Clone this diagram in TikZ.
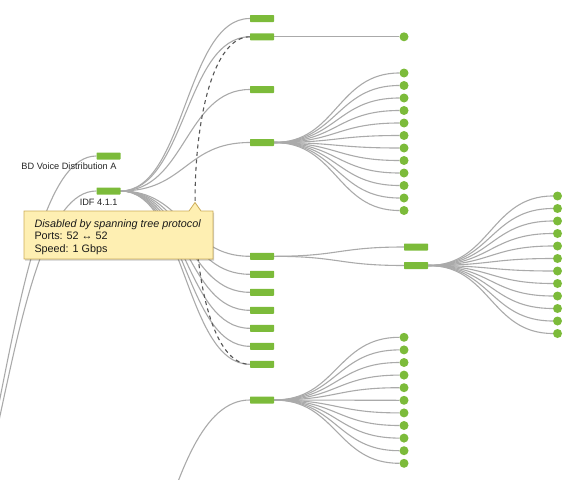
\documentclass[tikz,border=0pt]{standalone}
\usepackage{fontspec}
\setmainfont{Liberation Sans}
\usetikzlibrary{calc,shadows}
\pgfdeclarelayer{bg}
\pgfsetlayers{bg,main}
\definecolor{barGreen}{RGB}{124,187,58}
\definecolor{edgeGray}{RGB}{170,170,170}
\definecolor{dashGray}{RGB}{85,85,85}
\definecolor{tipFill}{RGB}{254,239,178}
\definecolor{tipBorder}{RGB}{204,172,88}
\definecolor{tipText}{RGB}{25,25,25}
\tikzset{
  bar/.style={fill=barGreen, draw=none, minimum width=24pt, minimum height=7pt, inner sep=0pt, rounded corners=0.6pt},
  leaf/.style={circle, fill=barGreen, draw=none, minimum size=9pt, inner sep=0pt},
  link/.style={draw=edgeGray, line width=1.1pt},
  diag/.style={to path={let \p1=(\tikztostart), \p2=(\tikztotarget), \p3=($(\p1)!0.5!(\p2)$) in .. controls (\x3,\y1) and (\x3,\y2) .. (\p2)}},
  blocked/.style={draw=dashGray, line width=1.1pt, dash pattern=on 4pt off 3.5pt},
  lbl/.style={font=\fontsize{9.2}{11}\selectfont, text=black!85, inner sep=0pt, anchor=base},
  tiptxt/.style={font=\fontsize{10.8}{12.5}\selectfont, text=tipText, inner sep=0pt, anchor=base west},
}
\begin{document}
\begin{tikzpicture}[x=1pt,y=-1pt]
\useasboundingbox (0,0) rectangle (580,479);
% off-screen parents
\coordinate (root) at (-97,644);
\coordinate (root2) at (60,700);
% level 1
\node[bar] (BD) at (108.5,156) {};
\node[bar] (IDF) at (108.5,191) {};
\node[lbl] (bdlbl) at (69,169.5) {BD Voice Distribution A};
\node[lbl] (idflbl) at (98.7,205.6) {IDF 4.1.1};
% level 2
\node[bar] (R1) at (262,18.5) {};
\node[bar] (R2) at (262,36.8) {};
\node[bar] (R3) at (262,89.5) {};
\node[bar] (R4) at (262,142.5) {};
\foreach \i in {1,...,7} \node[bar] (M\i) at (262,{256.3+18*(\i-1)}) {};
\node[bar] (Bot) at (262,400) {};
% level 3
\node[leaf] (D0) at (404,36.8) {};
\foreach \i in {1,...,12} \node[leaf] (A\i) at (404,{73+12.5*(\i-1)}) {};
\node[bar] (Q1) at (416,247) {};
\node[bar] (Q2) at (416,265.5) {};
\foreach \i in {1,...,11} \node[leaf] (C\i) at (404,{337.3+12.6*(\i-1)}) {};
% level 4
\foreach \i in {1,...,12} \node[leaf] (B\i) at (557.5,{196+12.5*(\i-1)}) {};
% links
\begin{pgfonlayer}{bg}
\draw[link] (root) to[diag] (BD.west);
\draw[link] (root) to[diag] (IDF.west);
\foreach \nm in {R1,R2,R3,R4,M1,M2,M3,M4,M5,M6,M7} \draw[link] (IDF.east) to[diag] (\nm.west);
\draw[link] (R2.east) -- (D0.west);
\foreach \i in {1,...,12} \draw[link] (R4.east) to[diag] (A\i.west);
\draw[link] (M1.east) to[diag] (Q1.west);
\draw[link] (M1.east) to[diag] (Q2.west);
\foreach \i in {1,...,12} \draw[link] (Q2.east) to[diag] (B\i.west);
\draw[link] (root2) to[diag] (Bot.west);
\foreach \i in {1,...,11} \draw[link] (Bot.east) to[diag] (C\i.west);
\draw[blocked] (R2.west) .. controls +(-73,0) and +(-73,0) .. (M7.west);
\end{pgfonlayer}
% tooltip
\path[fill=tipFill, draw=tipBorder, line width=0.8pt,
      drop shadow={shadow xshift=1.2pt, shadow yshift=-1.5pt, opacity=0.2, fill=black}]
  (24,211) -- (189,211) -- (195,202.5) -- (201,211) -- (213,211) -- (213,259) -- (24,259) -- cycle;
\node[tiptxt] (tip1) at (34.3,227.3) {\itshape Disabled by spanning tree protocol};
\node[tiptxt] (tip2) at (34.3,239.8) {Ports: 52 ↔ 52};
\node[tiptxt] (tip3) at (34.3,252.3) {Speed: 1 Gbps};
\end{tikzpicture}
\end{document}
